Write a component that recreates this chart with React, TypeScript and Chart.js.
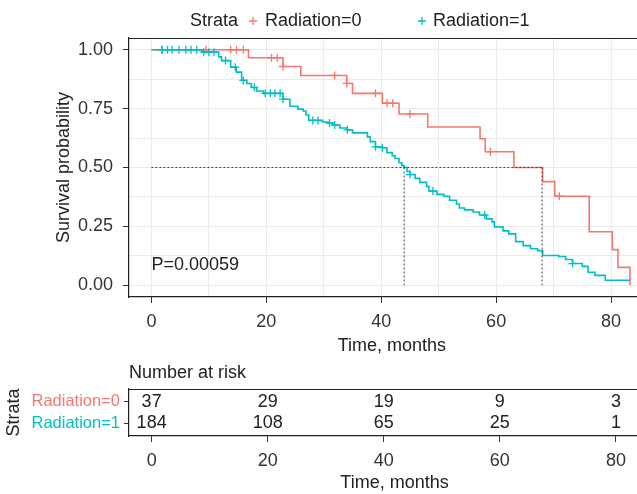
import React, { useEffect, useRef } from 'react';
import { Chart, registerables } from 'chart.js';
Chart.register(...registerables);

const RED = '#F8766D';
const TEAL = '#00BFC4';
const FONT = '"Liberation Sans", Arial, Helvetica, sans-serif';

// Radiation=0 Kaplan-Meier steps (time in months, survival after the drop)
const radiation0Times = [0, 16.9, 22.9, 26.0, 34.0, 35.0, 40.2, 43.1, 48.1, 57.2, 58.1, 63.1, 68.1, 70.2, 76.2, 80.2, 81.2, 83.3];
const radiation0Surv = [1, 0.966, 0.929, 0.891, 0.857, 0.815, 0.773, 0.727, 0.672, 0.622, 0.567, 0.5, 0.44, 0.378, 0.227, 0.151, 0.076, 0];
const radiation0Censor = [1.8, 9.5, 13.8, 14.8, 16.0, 20.9, 21.9, 22.9, 31.9, 34.0, 39.0, 41.0, 42.0, 45.0, 59.0, 71.0];

// Radiation=1 Kaplan-Meier steps
const radiation1Times = [0, 8.8, 11.7, 12.2, 13.8, 14.8, 15.7, 16.6, 17.4, 18.3, 19.5, 22.9, 24.1, 25.5, 26.4, 26.9, 27.4, 29.8, 30.7, 31.6, 32.8, 34.1, 35.0, 37.6, 38.1, 39.0, 40.2, 41.0, 41.9, 42.4, 43.1, 43.6, 44.0, 44.5, 45.0, 45.9, 46.7, 47.9, 48.3, 49.7, 50.9, 51.9, 53.1, 53.6, 54.5, 56.0, 57.1, 58.3, 59.3, 59.7, 61.2, 62.2, 63.4, 64.7, 66.0, 67.2, 68.1, 70.9, 72.1, 73.3, 75.0, 76.0, 77.2, 79.0, 83.3];
const radiation1Surv = [1, 0.99, 0.97, 0.954, 0.926, 0.905, 0.87, 0.857, 0.84, 0.825, 0.815, 0.79, 0.76, 0.748, 0.74, 0.723, 0.70, 0.693, 0.689, 0.68, 0.668, 0.66, 0.647, 0.63, 0.61, 0.588, 0.584, 0.563, 0.55, 0.538, 0.52, 0.508, 0.50, 0.483, 0.47, 0.454, 0.437, 0.42, 0.40, 0.386, 0.378, 0.361, 0.345, 0.328, 0.32, 0.311, 0.298, 0.282, 0.269, 0.248, 0.231, 0.218, 0.185, 0.168, 0.155, 0.147, 0.126, 0.122, 0.109, 0.092, 0.08, 0.055, 0.042, 0.021, 0.021];
const radiation1Censor = [1.9, 2.8, 3.6, 4.8, 6.0, 6.9, 7.9, 9.1, 10.0, 10.9, 12.9, 14.6, 16.0, 17.9, 19.8, 20.7, 21.5, 22.4, 22.9, 28.1, 29.0, 31.0, 31.9, 34.1, 39.0, 40.2, 45.0, 49.0, 58.0, 73.3];

// Median survival times (survival = 0.5)
const medianTimes = [44, 68];
const medianLevel = 0.5;

const strataLabels = ['Radiation=0', 'Radiation=1'];
const pValueText = 'P=0.00059';
const pValuePos = { x: 0, y: 0.086 };

// Number at risk table
const riskTimes = [0, 20, 40, 60, 80];
const riskRadiation0 = [37, 29, 19, 9, 3];
const riskRadiation1 = [184, 108, 65, 25, 1];

const xGrid = [0, 10, 20, 30, 40, 50, 60, 70, 80];
const yGrid = [0, 0.125, 0.25, 0.375, 0.5, 0.625, 0.75, 0.875, 1];

const X_MIN = -3.9;
const X_MAX = 87.6;

function survAt(times: number[], surv: number[], t: number) {
  let s = surv[0];
  for (let i = 0; i < times.length; i++) if (times[i] <= t) s = surv[i];
  return s;
}

const isMajorX = (v: number) => Math.abs(v % 20) < 1e-9;
const isMajorY = (v: number) => Math.abs(v * 4 - Math.round(v * 4)) < 1e-9;

function xAxis(drawGrid: boolean, height: number, labelPad: number, titleBottom: number) {
  return {
    type: 'linear',
    min: X_MIN,
    max: X_MAX,
    afterBuildTicks: (s: any) => {
      s.ticks = (drawGrid ? xGrid : riskTimes).map((v) => ({ value: v }));
    },
    afterFit: (s: any) => {
      s.height = height;
    },
    ticks: {
      autoSkip: false,
      maxRotation: 0,
      padding: labelPad,
      color: '#333',
      font: { size: 18, family: FONT },
      callback: (v: number) => (isMajorX(v) ? String(v) : ''),
    },
    grid: {
      display: true,
      drawOnChartArea: drawGrid,
      color: '#EBEBEB',
      lineWidth: 1,
      tickLength: 6,
      tickWidth: 1,
      tickColor: (ctx: any) => (ctx.tick && isMajorX(ctx.tick.value) ? '#333' : 'rgba(0,0,0,0)'),
    },
    border: { display: true, color: '#222', width: 1.2 },
    title: {
      display: true,
      text: 'Time, months',
      color: '#222',
      font: { size: 18, family: FONT },
      padding: { top: 0, bottom: titleBottom },
    },
  };
}

function crossAt(ctx: CanvasRenderingContext2D, x: number, y: number, r: number, color: string) {
  ctx.save();
  ctx.strokeStyle = color;
  ctx.lineWidth = 1.3;
  ctx.beginPath();
  ctx.moveTo(x - r, y);
  ctx.lineTo(x + r, y);
  ctx.moveTo(x, y - r);
  ctx.lineTo(x, y + r);
  ctx.stroke();
  ctx.restore();
}

const mainPlugin = {
  id: 'kmDecor',
  afterDraw(chart: any) {
    const { ctx, chartArea, scales } = chart;
    ctx.save();
    // top panel line
    ctx.strokeStyle = '#222';
    ctx.lineWidth = 1.2;
    ctx.beginPath();
    ctx.moveTo(chartArea.left, chartArea.top + 0.5);
    ctx.lineTo(chartArea.right, chartArea.top + 0.5);
    ctx.stroke();
    // p value
    ctx.fillStyle = '#222';
    ctx.font = `18px ${FONT}`;
    ctx.textAlign = 'left';
    ctx.textBaseline = 'middle';
    ctx.fillText(pValueText, scales.x.getPixelForValue(pValuePos.x), scales.y.getPixelForValue(pValuePos.y));
    // legend
    const ly = 21;
    ctx.fillText('Strata', 190, ly);
    crossAt(ctx, 253, ly, 4, RED);
    ctx.fillStyle = '#222';
    ctx.fillText(strataLabels[0], 265, ly);
    crossAt(ctx, 422, ly, 4, TEAL);
    ctx.fillStyle = '#222';
    ctx.fillText(strataLabels[1], 433, ly);
    ctx.restore();
  },
};

const tablePlugin = {
  id: 'riskTable',
  afterDraw(chart: any) {
    const { ctx, chartArea } = chart;
    ctx.save();
    ctx.strokeStyle = '#222';
    ctx.lineWidth = 1.2;
    ctx.beginPath();
    ctx.moveTo(chartArea.left, chartArea.top + 0.5);
    ctx.lineTo(chartArea.right, chartArea.top + 0.5);
    ctx.stroke();
    ctx.fillStyle = '#222';
    ctx.font = `18px ${FONT}`;
    ctx.textAlign = 'left';
    ctx.textBaseline = 'middle';
    ctx.fillText('Number at risk', chartArea.left, 13);
    ctx.textAlign = 'center';
    chart.data.datasets.forEach((ds: any, di: number) => {
      const meta = chart.getDatasetMeta(di);
      meta.data.forEach((pt: any, i: number) => {
        ctx.fillText(String(ds.riskValues[i]), pt.x, pt.y);
      });
    });
    ctx.restore();
  },
};

export default function App() {
  const mainRef = useRef<HTMLCanvasElement>(null);
  const tableRef = useRef<HTMLCanvasElement>(null);

  useEffect(() => {
    Chart.defaults.font.family = FONT;
    const toPts = (times: number[], surv: number[]) => times.map((t, i) => ({ x: t, y: surv[i] }));
    const censorPts = (c: number[], times: number[], surv: number[]) => c.map((t) => ({ x: t, y: survAt(times, surv, t) }));
    const dotted = (pts: { x: number; y: number }[]) => ({
      type: 'line',
      data: pts,
      borderColor: '#444',
      borderWidth: 1,
      borderDash: [2, 2],
      pointRadius: 0,
      fill: false,
    });
    const medianDatasets = [
      dotted([{ x: 0, y: medianLevel }, { x: Math.max(...medianTimes), y: medianLevel }]),
      ...medianTimes.map((m) => dotted([{ x: m, y: medianLevel }, { x: m, y: 0 }])),
    ];

    const main = new Chart(mainRef.current!, {
      type: 'line',
      data: {
        datasets: [
          ...medianDatasets,
          {
            type: 'scatter',
            data: censorPts(radiation1Censor, radiation1Times, radiation1Surv),
            pointStyle: 'cross',
            pointRadius: 4,
            borderColor: TEAL,
            backgroundColor: TEAL,
            borderWidth: 1.3,
            showLine: false,
          },
          {
            data: toPts(radiation1Times, radiation1Surv),
            borderColor: TEAL,
            borderWidth: 1.6,
            stepped: 'before',
            pointRadius: 0,
            fill: false,
          },
          {
            type: 'scatter',
            data: censorPts(radiation0Censor, radiation0Times, radiation0Surv),
            pointStyle: 'cross',
            pointRadius: 4,
            borderColor: RED,
            backgroundColor: RED,
            borderWidth: 1.3,
            showLine: false,
          },
          {
            data: toPts(radiation0Times, radiation0Surv),
            borderColor: RED,
            borderWidth: 1.6,
            stepped: 'before',
            pointRadius: 0,
            fill: false,
          },
        ] as any,
      },
      options: {
        responsive: false,
        animation: false,
        events: [],
        layout: { padding: { top: 38, left: 0, right: 0, bottom: 0 } },
        plugins: { legend: { display: false }, tooltip: { enabled: false } },
        scales: {
          x: xAxis(true, 63, 8, 3) as any,
          y: {
            type: 'linear',
            min: -0.05,
            max: 1.05,
            afterBuildTicks: (s: any) => {
              s.ticks = yGrid.map((v) => ({ value: v }));
            },
            afterFit: (s: any) => {
              s.width = 129;
            },
            ticks: {
              padding: 10,
              color: '#333',
              font: { size: 18, family: FONT },
              callback: (v: number) => (isMajorY(v) ? v.toFixed(2) : ''),
            },
            grid: {
              color: '#EBEBEB',
              lineWidth: 1,
              tickLength: 6,
              tickColor: (ctx: any) => (ctx.tick && isMajorY(ctx.tick.value) ? '#333' : 'rgba(0,0,0,0)'),
            },
            border: { display: true, color: '#222', width: 1.2 },
            title: {
              display: true,
              text: 'Survival probability',
              color: '#222',
              font: { size: 18, family: FONT },
              padding: { top: 53, bottom: 0 },
            },
          },
        },
      },
      plugins: [mainPlugin],
    });

    const table = new Chart(tableRef.current!, {
      type: 'scatter',
      data: {
        datasets: [
          { data: riskTimes.map((t) => ({ x: t, y: 1 })), riskValues: riskRadiation0, pointRadius: 0 },
          { data: riskTimes.map((t) => ({ x: t, y: 2 })), riskValues: riskRadiation1, pointRadius: 0 },
        ] as any,
      },
      options: {
        responsive: false,
        animation: false,
        events: [],
        layout: { padding: { top: 29, left: 0, right: 0, bottom: 0 } },
        plugins: { legend: { display: false }, tooltip: { enabled: false } },
        scales: {
          x: xAxis(false, 58, 8, 0) as any,
          y: {
            type: 'linear',
            min: 0.4,
            max: 2.6,
            reverse: true,
            afterBuildTicks: (s: any) => {
              s.ticks = [1, 2].map((v) => ({ value: v }));
            },
            afterFit: (s: any) => {
              s.width = 129;
            },
            ticks: {
              padding: 4,
              font: { size: 16.5, family: FONT },
              color: (ctx: any) => (ctx.tick && ctx.tick.value === 1 ? RED : TEAL),
              callback: (v: number) => strataLabels[v - 1],
            },
            grid: { drawOnChartArea: false, tickLength: 5, tickColor: '#333' },
            border: { display: true, color: '#222', width: 1.2 },
            title: {
              display: true,
              text: 'Strata',
              color: '#222',
              font: { size: 18, family: FONT },
              padding: { top: 3, bottom: 0 },
            },
          },
        },
      },
      plugins: [tablePlugin],
    });

    return () => {
      main.destroy();
      table.destroy();
    };
  }, []);

  return (
    <div style={{ position: 'fixed', left: 0, top: 0, width: 637, height: 494, overflow: 'hidden', background: '#fff' }}>
      <canvas ref={mainRef} width={660} height={360} style={{ position: 'absolute', left: 0, top: 0, display: 'block' }} />
      <canvas ref={tableRef} width={660} height={134} style={{ position: 'absolute', left: 0, top: 360, display: 'block' }} />
    </div>
  );
}
